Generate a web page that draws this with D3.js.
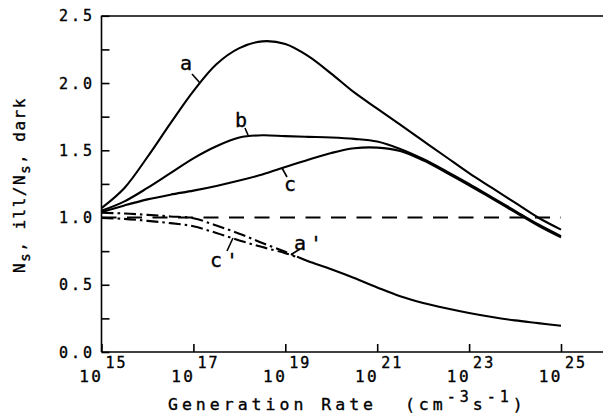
<!DOCTYPE html>
<html>
<head>
<meta charset="utf-8">
<script src="https://cdn.jsdelivr.net/npm/d3@7"></script>
<style>
  body { margin: 0; background: #fff; }
  svg { display: block; }
  text { font-family: "DejaVu Sans Mono", monospace; fill: #000; stroke: #000; stroke-width: 0.35; }
  .curve { fill: none; stroke: #000; stroke-width: 2.1; }
  .axis path, .axis line { stroke: #000; stroke-width: 1.6; }
</style>
</head>
<body>
<script>
// generation rate grid, log10 (cm^-3 s^-1)
var logG = [15, 15.5, 16, 16.5, 17, 17.5, 18, 18.5, 19, 19.5, 20, 20.5, 21, 21.5, 22, 22.5, 23, 23.5, 24, 24.5, 25];

// Ns,ill / Ns,dark for each curve
var curveA = [1.07, 1.22, 1.45, 1.70, 1.94, 2.14, 2.26, 2.31, 2.29, 2.20, 2.07, 1.93, 1.81, 1.69, 1.57, 1.45, 1.33, 1.22, 1.11, 1.00, 0.91];
var curveB = [1.05, 1.12, 1.22, 1.33, 1.44, 1.53, 1.595, 1.612, 1.605, 1.60, 1.595, 1.585, 1.565, 1.51, 1.435, 1.345, 1.25, 1.15, 1.05, 0.95, 0.862];
var curveC = [1.04, 1.09, 1.135, 1.17, 1.20, 1.235, 1.275, 1.32, 1.375, 1.43, 1.48, 1.515, 1.52, 1.495, 1.425, 1.335, 1.24, 1.14, 1.04, 0.94, 0.852];
var curveA2 = [1.035, 1.03, 1.02, 1.008, 0.995, 0.94, 0.88, 0.81, 0.745, 0.675, 0.615, 0.55, 0.48, 0.415, 0.365, 0.325, 0.29, 0.26, 0.235, 0.215, 0.195];
var curveC2 = [0.997, 0.99, 0.975, 0.958, 0.935, 0.885, 0.83, 0.78, 0.735, 0.675, 0.615, 0.55, 0.48, 0.415, 0.365, 0.325, 0.29, 0.26, 0.235, 0.215, 0.195];
var mergeLog = 19.3;   // a' and c' run together beyond this

var yTicks = [0, 0.5, 1.0, 1.5, 2.0, 2.5];
var yMinor = [0, 0.25, 0.5, 0.75, 1.0, 1.25, 1.5, 1.75, 2.0, 2.25, 2.5];
var xExp = [15, 17, 19, 21, 23, 25];

var width = 603, height = 418;

var svg = d3.select("body").append("svg")
    .attr("width", width)
    .attr("height", height);

var x = d3.scaleLog().domain([1e15, 1e25]).range([101.5, 561]);
var y = d3.scaleLinear().domain([0, 2.5]).range([352, 15.8]);

//frame top
var x0 = x(1e15), y0 = y(0);
svg.append("line").attr("x1", x0).attr("x2", 603).attr("y1", 16).attr("y2", 16)
    .attr("stroke", "#000").attr("stroke-width", 1.6);

//y ticks, inward
svg.append("g").attr("class", "axis")
    .attr("transform", "translate(" + x0 + ",0)")
    .call(d3.axisRight(y).tickValues(yMinor).tickSize(8).tickFormat(""))
    .select(".domain").attr("d", "M0," + y(2.5) + "V" + y0);

//y labels
svg.append("g").selectAll("text")
    .data(yTicks).enter().append("text")
    .attr("x", 95)
    .attr("y", function(d) { return y(d) + 5.5; })
    .attr("text-anchor", "end")
    .style("font-size", "15px")
    .style("letter-spacing", "3px")
    .text(function(d) { return d3.format(".1f")(d); });

//x ticks, inward
svg.append("g").attr("class", "axis")
    .attr("transform", "translate(0," + y0 + ")")
    .call(d3.axisTop(x).tickValues(xExp.map(function(e) { return Math.pow(10, e); })).tickSize(8).tickFormat(""))
    .select(".domain").attr("d", "M" + x0 + ",0H603");

//x labels 10^n
var xl = svg.append("g").selectAll("g")
    .data(xExp).enter().append("g")
    .attr("transform", function(e) { return "translate(" + x(Math.pow(10, e)) + ",0)"; });
xl.append("text")
    .attr("x", 2).attr("y", 382)
    .attr("text-anchor", "end")
    .style("font-size", "16px").style("letter-spacing", "2.5px")
    .text("10");
xl.append("text")
    .attr("x", 4).attr("y", 368)
    .style("font-size", "15px").style("letter-spacing", "2px")
    .text(function(e) { return e; });

//axis titles
var xt = svg.append("text")
    .attr("x", 168).attr("y", 410)
    .style("font-size", "16.5px").style("letter-spacing", "4px")
    .style("white-space", "pre");
xt.append("tspan").text("Generation Rate  (cm");
xt.append("tspan").attr("dy", -8).style("font-size", "15px").text("-3");
xt.append("tspan").attr("dy", 8).text("s");
xt.append("tspan").attr("dy", -8).style("font-size", "15px").text("-1");
xt.append("tspan").attr("dy", 8).text(")");

var yt = svg.append("text")
    .attr("transform", "translate(25,185) rotate(-90)")
    .attr("text-anchor", "middle")
    .style("font-size", "16px").style("letter-spacing", "1.5px");
yt.append("tspan").text("N");
yt.append("tspan").attr("dy", 5).style("font-size", "14px").text("s");
yt.append("tspan").attr("dy", -5).text(", ill/N");
yt.append("tspan").attr("dy", 5).style("font-size", "14px").text("s");
yt.append("tspan").attr("dy", -5).text(", dark");

//reference line at 1.0
svg.append("line")
    .attr("x1", x0).attr("x2", x(1e25))
    .attr("y1", y(1)).attr("y2", y(1))
    .attr("stroke", "#000").attr("stroke-width", 2)
    .attr("stroke-dasharray", "15,10.5");

var line = d3.line()
    .x(function(d) { return x(Math.pow(10, d[0])); })
    .y(function(d) { return y(d[1]); })
    .curve(d3.curveCatmullRom.alpha(0.5));

function pts(vals) { return logG.map(function(g, i) { return [g, vals[i]]; }); }

[curveA, curveB, curveC].forEach(function(v) {
    svg.append("path").datum(pts(v)).attr("class", "curve").attr("d", line);
});

//value at the merge point, linear between grid points
function atMerge(vals) {
    var i = logG.findIndex(function(g) { return g > mergeLog; });
    var t = (mergeLog - logG[i - 1]) / (logG[i] - logG[i - 1]);
    return [mergeLog, vals[i - 1] + t * (vals[i] - vals[i - 1])];
}

//dash-dot a' and c' until they merge
[curveA2, curveC2].forEach(function(v) {
    var p = pts(v).filter(function(d) { return d[0] < mergeLog; });
    p.push(atMerge(v));
    svg.append("path").datum(p).attr("class", "curve")
        .attr("stroke-dasharray", "12,4,2.5,4").attr("d", line);
});
//shared solid tail
var tail = [atMerge(curveA2)].concat(pts(curveA2).filter(function(d) { return d[0] > mergeLog; }));
svg.append("path").datum(tail).attr("class", "curve")
    .attr("stroke-width", 2.4).attr("d", line);

//curve labels with leaders
var labels = [
    { t: "a", x: 188, y: 70, l: [192, 74, 200, 83] },
    { t: "b", x: 243, y: 127, l: [245, 128, 248, 135] },
    { t: "c", x: 292, y: 191, l: [282, 168, 287, 177] },
    { t: "a'", x: 310, y: 250, l: [300, 249, 292, 254] },
    { t: "c'", x: 226, y: 267, l: [227, 251, 233, 238] }
];
labels.forEach(function(d) {
    svg.append("text").attr("x", d.x).attr("y", d.y)
        .attr("text-anchor", "middle")
        .style("font-size", "20px").style("letter-spacing", "4px")
        .text(d.t);
    svg.append("line")
        .attr("x1", d.l[0]).attr("y1", d.l[1]).attr("x2", d.l[2]).attr("y2", d.l[3])
        .attr("stroke", "#000").attr("stroke-width", 1.6);
});
</script>
</body>
</html>
